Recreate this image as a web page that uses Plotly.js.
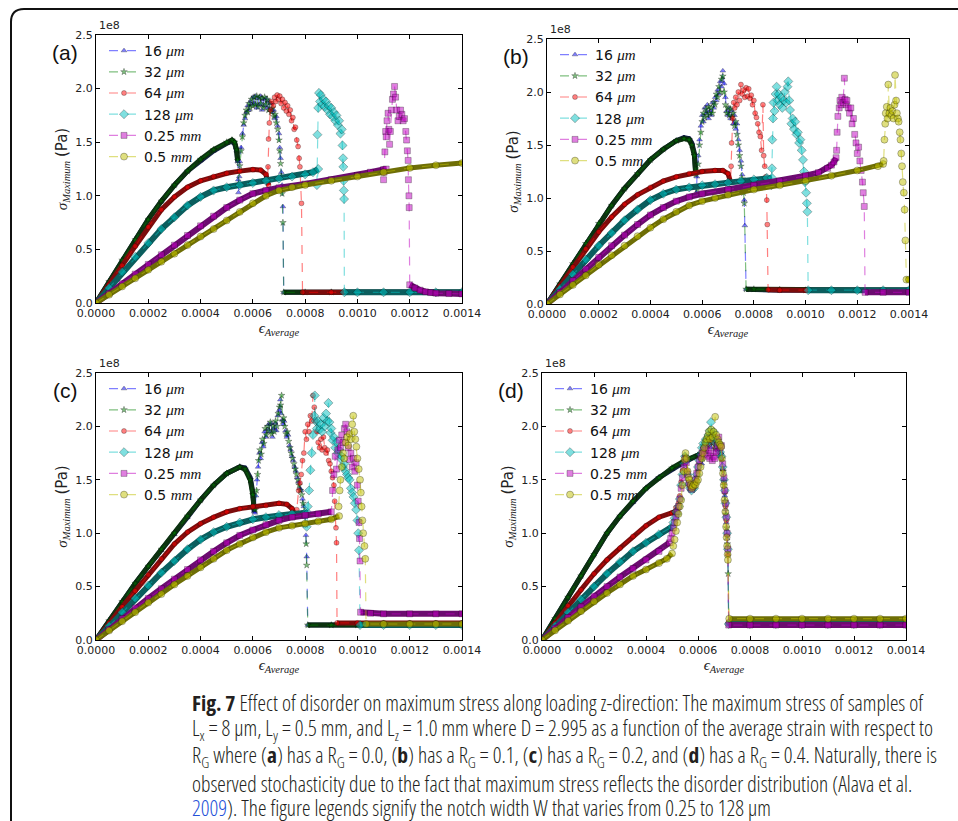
<!DOCTYPE html>
<html><head><meta charset="utf-8">
<script src="https://cdn.plot.ly/plotly-3.0.1.min.js"></script>
<style>html,body{margin:0;padding:0;background:#fff;}#chart{width:958px;height:821px;}</style>
</head><body><div id="chart"></div>
<script>
// ---------------- DATA (strain in units of 1e-4, stress in units of 1e8 Pa) ----------------
const STRAIN_UNIT = 1e-4;
const NOTCH_VALUES = ['16', '32', '64', '128', '0.25', '0.5'];
const NOTCH_UNITS = ['μm', 'μm', 'μm', 'μm', 'mm', 'mm'];
const X_TICKS = [0, 0.0002, 0.0004, 0.0006, 0.0008, 0.0010, 0.0012, 0.0014];
const X_TICK_LABELS = ['0.0000', '0.0002', '0.0004', '0.0006', '0.0008', '0.0010', '0.0012', '0.0014'];
const Y_TICKS = [0, 0.5, 1.0, 1.5, 2.0, 2.5];
const Y_TICK_LABELS = ['0.0', '0.5', '1.0', '1.5', '2.0', '2.5'];
const PANEL_LABELS = ['(a)', '(b)', '(c)', '(d)'];

// ---- Panel (a) R_G = 0.0 ----
const A16_RISE = [[0,0],[0.5,0.20],[1,0.40],[1.5,0.59],[2,0.78],[2.5,0.95],[3,1.10],[3.5,1.23],[4,1.33],[4.5,1.42],[5,1.49],[5.2,1.51],[5.3,1.49],[5.38,1.42],[5.42,1.32]];
const A16_PEAK = [[5.44,1.15],[5.45,1.03],[5.48,1.18],[5.5,1.32],[5.55,1.45],[5.6,1.58],[5.65,1.66],[5.7,1.72],[5.75,1.78],[5.8,1.84],[5.85,1.80],[5.9,1.88],[5.95,1.85],[6.0,1.92],[6.05,1.86],[6.1,1.93],[6.15,1.82],[6.2,1.91],[6.25,1.85],[6.3,1.93],[6.35,1.80],[6.4,1.90],[6.45,1.84],[6.5,1.91],[6.55,1.82],[6.6,1.88],[6.65,1.80],[6.7,1.86],[6.75,1.78],[6.8,1.80],[6.85,1.72],[6.9,1.74],[6.95,1.65],[7.0,1.58],[7.03,1.45],[7.06,1.35],[7.09,1.22],[7.12,1.10],[7.15,0.90]];
const A16_POST = [[7.18,0.10],[8,0.10],[9,0.10],[10,0.10],[11,0.10],[12,0.10],[13,0.10],[14,0.10]];
const A32_RISE = [[0,0],[0.5,0.20],[1,0.40],[1.5,0.59],[2,0.78],[2.5,0.95],[3,1.10],[3.5,1.23],[4,1.34],[4.5,1.43],[5,1.50],[5.2,1.52],[5.3,1.50],[5.38,1.43],[5.42,1.33]];
const A32_PEAK = [[5.46,1.10],[5.5,1.28],[5.55,1.42],[5.6,1.55],[5.65,1.68],[5.7,1.75],[5.75,1.80],[5.8,1.78],[5.85,1.86],[5.9,1.82],[5.95,1.90],[6.0,1.84],[6.05,1.92],[6.1,1.85],[6.15,1.93],[6.2,1.83],[6.25,1.92],[6.3,1.86],[6.35,1.91],[6.4,1.82],[6.45,1.92],[6.5,1.85],[6.55,1.90],[6.6,1.80],[6.65,1.87],[6.7,1.78],[6.75,1.82],[6.8,1.74],[6.85,1.76],[6.9,1.68],[6.95,1.62],[7.0,1.52],[7.03,1.42],[7.06,1.30],[7.09,1.18],[7.12,1.02],[7.15,0.75]];
const A32_POST = [[7.18,0.10],[8,0.10],[9,0.10],[10,0.10],[11,0.10],[12,0.10],[13,0.10],[14,0.10]];
const A64_RISE = [[0,0],[0.5,0.17],[1,0.35],[1.5,0.53],[2,0.71],[2.5,0.87],[3,0.99],[3.5,1.08],[4,1.14],[4.5,1.18],[5,1.21],[5.5,1.23],[6,1.245],[6.3,1.24],[6.5,1.20],[6.6,1.10]];
const A64_PEAK = [[6.55,1.02],[6.58,1.27],[6.6,1.53],[6.63,1.68],[6.68,1.80],[6.72,1.88],[6.78,1.84],[6.83,1.92],[6.88,1.88],[6.93,1.94],[6.98,1.90],[7.03,1.93],[7.08,1.86],[7.13,1.90],[7.18,1.82],[7.23,1.87],[7.28,1.79],[7.33,1.84],[7.38,1.76],[7.43,1.80],[7.48,1.70],[7.53,1.73],[7.58,1.62],[7.63,1.64],[7.68,1.52],[7.73,1.46],[7.77,1.35],[7.8,1.27],[7.83,1.10],[7.86,0.93]];
const A64_POST = [[7.9,0.10],[9,0.10],[10,0.10],[11,0.10],[12,0.10],[13,0.10],[14,0.10]];
const A128_RISE = [[0,0],[0.5,0.14],[1,0.29],[1.5,0.43],[2,0.56],[2.5,0.69],[3,0.80],[3.5,0.91],[4,0.99],[4.5,1.05],[5,1.08],[5.5,1.10],[6,1.12],[6.5,1.14],[7,1.16],[7.5,1.18],[8,1.20],[8.3,1.22],[8.5,1.25]];
const A128_PEAK = [[8.45,1.10],[8.47,1.57],[8.5,1.82],[8.53,1.96],[8.57,1.88],[8.6,1.94],[8.65,1.85],[8.7,1.90],[8.75,1.83],[8.8,1.88],[8.85,1.80],[8.9,1.84],[8.95,1.76],[9.0,1.82],[9.05,1.74],[9.1,1.78],[9.15,1.70],[9.2,1.75],[9.25,1.66],[9.3,1.70],[9.35,1.58],[9.4,1.62],[9.43,1.47],[9.45,1.35],[9.46,1.27],[9.47,1.14],[9.48,1.05],[9.49,0.97]];
const A128_POST = [[9.5,0.10],[10,0.10],[11,0.10],[12,0.10],[13,0.10],[14,0.10]];
const A025_RISE = [[0,0],[0.5,0.09],[1,0.18],[1.5,0.27],[2,0.36],[2.5,0.45],[3,0.54],[3.5,0.63],[4,0.72],[4.5,0.81],[5,0.89],[5.5,0.96],[6,1.02],[6.5,1.05],[7,1.075],[8,1.11],[9,1.15],[10,1.19],[10.5,1.22],[11,1.245],[11.1,1.25]];
const A025_PEAK = [[11.0,1.15],[11.02,1.22],[11.05,1.41],[11.08,1.60],[11.1,1.55],[11.13,1.70],[11.17,1.77],[11.2,1.62],[11.23,1.48],[11.26,1.60],[11.3,1.80],[11.34,1.90],[11.38,1.95],[11.42,2.02],[11.46,1.92],[11.5,1.80],[11.55,1.70],[11.6,1.74],[11.65,1.80],[11.7,1.76],[11.75,1.70],[11.8,1.72],[11.85,1.60],[11.88,1.52],[11.91,1.42],[11.94,1.33],[11.95,1.15],[11.97,1.0],[11.98,0.89]];
const A025_POST = [[12.0,0.17],[12.2,0.14],[12.4,0.12],[12.6,0.105],[12.8,0.097],[13.0,0.092],[13.5,0.088],[14,0.085]];
const A05_RISE = [[0,0],[0.5,0.077],[1,0.154],[1.5,0.23],[2,0.31],[2.5,0.385],[3,0.46],[3.5,0.54],[4,0.62],[4.5,0.69],[5,0.77],[5.5,0.85],[6,0.93],[6.5,1.0],[7,1.05],[7.5,1.08],[8,1.10],[9,1.14],[10,1.18],[11,1.22],[12,1.26],[13,1.285],[14,1.305]];
const A05_PEAK = [];
const A05_POST = [];

// ---- Panel (b) R_G = 0.1 ----
const B16_RISE = [[0,0],[0.5,0.19],[1,0.38],[1.5,0.57],[2,0.76],[2.5,0.93],[3,1.09],[3.5,1.23],[4,1.36],[4.5,1.46],[5,1.54],[5.3,1.57],[5.5,1.56],[5.6,1.52],[5.7,1.42],[5.75,1.25]];
const B16_PEAK = [[5.78,1.05],[5.8,1.20],[5.85,1.40],[5.9,1.55],[5.95,1.68],[6.0,1.78],[6.05,1.72],[6.1,1.85],[6.15,1.80],[6.2,1.88],[6.25,1.75],[6.3,1.82],[6.35,1.78],[6.4,1.90],[6.45,1.85],[6.5,1.95],[6.55,1.92],[6.6,2.02],[6.65,1.98],[6.7,2.10],[6.75,2.05],[6.8,2.20],[6.85,2.08],[6.9,1.95],[6.95,1.82],[7.0,1.78],[7.05,1.85],[7.1,1.75],[7.15,1.82],[7.2,1.70],[7.25,1.78],[7.3,1.65],[7.35,1.70],[7.4,1.55],[7.45,1.45],[7.5,1.35],[7.55,1.22],[7.6,1.10],[7.63,0.98],[7.65,0.74]];
const B16_POST = [[7.7,0.14],[8,0.135],[9,0.13],[10,0.13],[11,0.13],[12,0.13],[13,0.13],[14,0.13]];
const B32_RISE = [[0,0],[0.5,0.19],[1,0.38],[1.5,0.57],[2,0.76],[2.5,0.93],[3,1.09],[3.5,1.23],[4,1.36],[4.5,1.46],[5,1.54],[5.3,1.56],[5.5,1.55],[5.6,1.50],[5.7,1.40],[5.75,1.22]];
const B32_PEAK = [[5.8,1.08],[5.85,1.32],[5.9,1.50],[5.95,1.62],[6.0,1.72],[6.05,1.80],[6.1,1.76],[6.15,1.84],[6.2,1.78],[6.25,1.86],[6.3,1.80],[6.35,1.85],[6.4,1.80],[6.45,1.90],[6.5,1.88],[6.55,1.98],[6.6,1.95],[6.65,2.05],[6.7,2.0],[6.75,2.12],[6.8,2.15],[6.85,2.0],[6.9,1.88],[6.95,1.80],[7.0,1.85],[7.05,1.78],[7.1,1.84],[7.15,1.76],[7.2,1.80],[7.25,1.68],[7.3,1.72],[7.35,1.60],[7.4,1.50],[7.45,1.40],[7.5,1.30],[7.55,1.18],[7.6,1.05],[7.63,0.95]];
const B32_POST = [[7.7,0.14],[8,0.14],[9,0.135],[10,0.13],[11,0.13],[12,0.13],[13,0.13],[14,0.13]];
const B64_RISE = [[0,0],[0.5,0.17],[1,0.35],[1.5,0.52],[2,0.68],[2.5,0.82],[3,0.94],[3.5,1.03],[4,1.10],[4.5,1.16],[5,1.20],[5.5,1.23],[6,1.25],[6.5,1.26],[6.8,1.26],[7.0,1.23],[7.1,1.15]];
const B64_PEAK = [[7.12,1.30],[7.14,1.52],[7.18,1.75],[7.22,1.90],[7.26,1.85],[7.3,1.95],[7.35,1.88],[7.4,2.00],[7.45,1.92],[7.5,2.07],[7.55,1.98],[7.6,2.02],[7.65,1.95],[7.7,2.04],[7.75,1.96],[7.8,2.03],[7.85,1.94],[7.9,1.97],[7.95,1.88],[8.0,1.92],[8.05,1.80],[8.1,1.76],[8.15,1.70],[8.2,1.62],[8.25,1.58],[8.3,1.45],[8.35,1.88],[8.38,1.40],[8.42,1.30],[8.46,1.20],[8.5,0.98],[8.52,0.75]];
const B64_POST = [[8.55,0.135],[9,0.13],[10,0.13],[11,0.13],[12,0.13],[13,0.13],[14,0.13]];
const B128_RISE = [[0,0],[0.5,0.14],[1,0.28],[1.5,0.42],[2,0.55],[2.5,0.67],[3,0.79],[3.5,0.89],[4,0.98],[4.5,1.04],[5,1.08],[5.5,1.10],[6,1.12],[6.5,1.13],[7,1.145],[7.5,1.16],[8,1.175],[8.5,1.19],[8.7,1.19]];
const B128_PEAK = [[8.68,1.12],[8.7,1.28],[8.71,1.55],[8.74,1.75],[8.76,1.90],[8.8,1.82],[8.84,1.98],[8.88,2.05],[8.92,1.92],[8.96,1.98],[9.0,1.88],[9.05,1.95],[9.1,1.85],[9.15,1.92],[9.2,2.00],[9.25,1.90],[9.3,2.05],[9.33,2.10],[9.37,1.92],[9.4,1.83],[9.45,1.70],[9.5,1.75],[9.55,1.65],[9.6,1.72],[9.65,1.60],[9.7,1.62],[9.75,1.52],[9.8,1.55],[9.85,1.45],[9.9,1.36],[9.94,1.25],[9.98,1.15],[10.02,1.05],[10.05,0.95],[10.07,0.87]];
const B128_POST = [[10.1,0.13],[11,0.13],[12,0.13],[13,0.13],[14,0.13]];
const B025_RISE = [[0,0],[0.5,0.11],[1,0.22],[1.5,0.33],[2,0.44],[2.5,0.55],[3,0.65],[3.5,0.75],[4,0.84],[4.5,0.91],[5,0.97],[5.5,1.01],[6,1.04],[7,1.08],[8,1.12],[9,1.16],[10,1.21],[10.5,1.24],[10.85,1.28],[11,1.31],[11.1,1.34],[11.18,1.38]];
const B025_PEAK = [[11.2,1.45],[11.22,1.62],[11.25,1.77],[11.3,1.85],[11.33,1.92],[11.37,1.88],[11.4,1.95],[11.45,1.90],[11.5,2.13],[11.53,1.93],[11.57,1.88],[11.6,1.92],[11.65,1.85],[11.7,1.80],[11.75,1.85],[11.8,1.70],[11.85,1.75],[11.9,1.60],[11.95,1.52],[12.0,1.42],[12.05,1.48],[12.1,1.35],[12.15,1.26],[12.2,1.15],[12.23,1.05],[12.27,0.92]];
const B025_POST = [[12.3,0.11],[13,0.11],[14,0.11]];
const B05_RISE = [[0,0],[0.5,0.09],[1,0.18],[1.5,0.27],[2,0.37],[2.5,0.46],[3,0.55],[3.5,0.64],[4,0.72],[4.5,0.80],[5,0.87],[5.5,0.93],[6,0.97],[6.5,1.0],[7,1.03],[8,1.08],[9,1.12],[10,1.16],[11,1.21],[12,1.26],[12.8,1.30],[13.0,1.32]];
const B05_PEAK = [[13.02,1.35],[13.05,1.55],[13.08,1.70],[13.1,1.80],[13.14,1.86],[13.17,1.75],[13.2,2.07],[13.24,1.80],[13.28,1.85],[13.32,1.78],[13.36,1.82],[13.4,1.75],[13.44,1.88],[13.46,2.16],[13.5,1.92],[13.53,1.80],[13.57,1.75],[13.6,1.72],[13.64,1.62],[13.67,1.55],[13.7,1.42],[13.73,1.30],[13.76,1.15],[13.8,1.05],[13.83,0.89],[13.86,0.60]];
const B05_POST = [[13.9,0.23],[14,0.23]];

// ---- Panel (c) R_G = 0.2 ----
const C16_RISE = [[0,0],[0.5,0.18],[1,0.36],[1.5,0.53],[2,0.69],[2.5,0.84],[3,0.99],[3.5,1.15],[4,1.31],[4.5,1.45],[5,1.56],[5.5,1.62],[5.7,1.61],[5.9,1.52],[6.0,1.38],[6.05,1.20]];
const C16_PEAK = [[6.08,1.19],[6.12,1.35],[6.16,1.50],[6.2,1.62],[6.25,1.75],[6.3,1.70],[6.35,1.85],[6.4,1.81],[6.45,1.95],[6.5,1.90],[6.55,1.97],[6.6,2.02],[6.65,1.95],[6.7,2.03],[6.75,1.90],[6.8,1.98],[6.85,2.03],[6.9,1.96],[6.95,2.10],[7.0,2.15],[7.05,2.25],[7.08,2.12],[7.12,2.06],[7.16,2.02],[7.2,2.05],[7.25,1.96],[7.3,1.90],[7.35,1.92],[7.4,1.82],[7.45,1.78],[7.5,1.72],[7.55,1.68],[7.6,1.62],[7.65,1.58],[7.7,1.52],[7.75,1.48],[7.8,1.42],[7.85,1.40],[7.9,1.32],[7.95,1.25],[8.0,1.15],[8.03,0.98],[8.06,0.78]];
const C16_POST = [[8.1,0.14],[9,0.14],[10,0.14],[11,0.14],[12,0.14],[13,0.14],[14,0.14]];
const C32_RISE = [[0,0],[0.5,0.18],[1,0.36],[1.5,0.53],[2,0.69],[2.5,0.85],[3,1.0],[3.5,1.16],[4,1.31],[4.5,1.45],[5,1.56],[5.5,1.62],[5.7,1.60],[5.9,1.50],[6.0,1.36],[6.05,1.22]];
const C32_PEAK = [[6.1,1.22],[6.14,1.40],[6.18,1.55],[6.22,1.68],[6.27,1.78],[6.32,1.74],[6.37,1.88],[6.42,1.84],[6.47,1.98],[6.52,1.92],[6.57,2.0],[6.62,1.96],[6.67,2.04],[6.72,1.93],[6.77,2.0],[6.82,1.95],[6.87,2.05],[6.92,2.0],[6.97,2.12],[7.02,2.18],[7.06,2.2],[7.1,2.29],[7.14,2.05],[7.18,2.08],[7.22,2.0],[7.27,1.93],[7.32,1.95],[7.37,1.86],[7.42,1.80],[7.47,1.75],[7.52,1.70],[7.57,1.65],[7.62,1.60],[7.67,1.55],[7.72,1.50],[7.77,1.45],[7.82,1.40],[7.87,1.36],[7.92,1.28],[7.97,1.20],[8.01,1.08],[8.04,0.90],[8.06,0.70]];
const C32_POST = [[8.1,0.14],[9,0.14],[10,0.14],[11,0.14],[12,0.14],[13,0.14],[14,0.14]];
const C64_RISE = [[0,0],[0.5,0.16],[1,0.31],[1.5,0.46],[2,0.61],[2.5,0.76],[3,0.90],[3.5,1.01],[4,1.09],[4.5,1.15],[5,1.20],[5.5,1.23],[6,1.25],[6.5,1.26],[7,1.28],[7.3,1.27],[7.5,1.23],[7.6,1.18]];
const C64_PEAK = [[7.68,1.22],[7.75,1.40],[7.8,1.47],[7.85,1.55],[7.9,1.68],[7.95,1.75],[8.0,1.95],[8.05,1.88],[8.1,2.02],[8.15,1.95],[8.2,2.10],[8.25,2.05],[8.3,2.29],[8.35,2.18],[8.4,2.05],[8.45,1.95],[8.5,1.85],[8.55,1.80],[8.6,1.88],[8.65,1.78],[8.7,1.90],[8.75,1.80],[8.8,1.75],[8.85,1.78],[8.9,1.68],[8.95,1.65],[9.0,1.58],[9.05,1.52],[9.1,1.45],[9.13,1.30],[9.16,1.15],[9.18,1.05],[9.2,0.91]];
const C64_POST = [[9.22,0.16],[10,0.16],[11,0.16],[12,0.16],[13,0.16],[14,0.16]];
const C128_RISE = [[0,0],[0.5,0.13],[1,0.26],[1.5,0.39],[2,0.51],[2.5,0.63],[3,0.74],[3.5,0.85],[4,0.94],[4.5,1.01],[5,1.06],[5.5,1.10],[6,1.13],[6.5,1.15],[7,1.17],[7.5,1.18],[8,1.19],[8.1,1.19]];
const C128_PEAK = [[8.06,1.06],[8.1,1.25],[8.15,1.40],[8.2,1.59],[8.25,1.75],[8.3,1.92],[8.35,2.10],[8.37,2.29],[8.4,2.05],[8.45,1.98],[8.5,2.05],[8.55,1.97],[8.6,2.02],[8.65,1.95],[8.7,2.08],[8.75,2.00],[8.8,2.12],[8.85,2.05],[8.89,2.22],[8.93,2.04],[8.97,1.94],[9.0,1.98],[9.05,1.87],[9.1,1.90],[9.15,1.80],[9.2,1.85],[9.25,1.75],[9.3,1.78],[9.35,1.70],[9.4,1.72],[9.45,1.62],[9.5,1.65],[9.55,1.58],[9.6,1.55],[9.65,1.52],[9.7,1.50],[9.75,1.42],[9.8,1.38],[9.85,1.34],[9.9,1.28],[9.95,1.22],[10.0,1.12],[10.03,1.0],[10.06,0.84]];
const C128_POST = [[10.1,0.14],[11,0.14],[12,0.14],[13,0.14],[14,0.14]];
const C025_RISE = [[0,0],[0.5,0.10],[1,0.20],[1.5,0.30],[2,0.39],[2.5,0.48],[3,0.57],[3.5,0.66],[4,0.75],[4.5,0.83],[5,0.91],[5.5,0.98],[6,1.03],[6.5,1.08],[7,1.12],[7.5,1.15],[8,1.17],[8.5,1.18],[9,1.20]];
const C025_PEAK = [[9.05,1.40],[9.1,1.55],[9.15,1.72],[9.2,1.60],[9.25,1.78],[9.3,1.87],[9.35,1.80],[9.4,1.92],[9.45,1.85],[9.5,1.98],[9.55,2.02],[9.6,1.95],[9.65,1.80],[9.7,1.69],[9.75,1.75],[9.8,1.62],[9.85,1.70],[9.9,1.58],[9.95,1.66],[10.0,1.45],[10.03,1.30],[10.06,1.10],[10.08,0.95],[10.1,0.74]];
const C025_POST = [[10.12,0.26],[10.5,0.25],[11,0.245],[12,0.245],[13,0.245],[14,0.245]];
const C05_RISE = [[0,0],[0.5,0.088],[1,0.175],[1.5,0.26],[2,0.35],[2.5,0.43],[3,0.52],[3.5,0.60],[4,0.68],[4.5,0.76],[5,0.84],[5.5,0.90],[6,0.96],[6.5,1.01],[7,1.05],[7.5,1.07],[8,1.09],[8.5,1.11],[9,1.13],[9.3,1.16]];
const C05_PEAK = [[9.28,1.25],[9.32,1.40],[9.35,1.50],[9.4,1.62],[9.45,1.75],[9.5,1.70],[9.55,1.85],[9.6,1.90],[9.65,1.82],[9.7,1.93],[9.75,1.88],[9.8,2.02],[9.84,2.10],[9.88,1.95],[9.92,1.88],[9.96,1.81],[10.0,1.70],[10.05,1.60],[10.1,1.50],[10.13,1.38],[10.16,1.25],[10.19,1.12],[10.22,1.0],[10.27,0.88],[10.3,0.76]];
const C05_POST = [[10.33,0.15],[11,0.15],[12,0.15],[13,0.15],[14,0.15]];

// ---- Panel (d) R_G = 0.4 ----
const D16_RISE = [[0,0],[0.5,0.20],[1,0.40],[1.5,0.60],[2,0.80],[2.5,1.0],[3,1.16],[3.5,1.29],[4,1.42],[4.5,1.52],[5,1.60],[5.5,1.67],[6,1.73],[6.1,1.72]];
const D16_PEAK = [[6.15,1.65],[6.2,1.78],[6.25,1.86],[6.3,1.80],[6.35,1.90],[6.4,1.85],[6.45,1.92],[6.5,1.80],[6.55,1.95],[6.6,1.85],[6.65,1.90],[6.7,1.78],[6.75,1.85],[6.8,1.80],[6.85,1.72],[6.9,1.75],[6.95,1.60],[7.0,1.50],[7.03,1.35],[7.06,1.22],[7.09,1.10],[7.12,0.95],[7.15,0.80]];
const D16_POST = [[7.18,0.15],[8,0.15],[9,0.15],[10,0.15],[11,0.15],[12,0.15],[13,0.15],[14,0.15]];
const D32_RISE = [[0,0],[0.5,0.20],[1,0.40],[1.5,0.60],[2,0.80],[2.5,1.0],[3,1.16],[3.5,1.30],[4,1.42],[4.5,1.52],[5,1.61],[5.5,1.68],[6,1.73],[6.1,1.71]];
const D32_PEAK = [[6.17,1.70],[6.22,1.82],[6.27,1.84],[6.32,1.88],[6.37,1.82],[6.42,1.90],[6.47,1.86],[6.52,1.93],[6.57,1.84],[6.62,1.92],[6.67,1.82],[6.72,1.88],[6.77,1.79],[6.82,1.82],[6.87,1.74],[6.92,1.70],[6.97,1.58],[7.0,1.45],[7.04,1.30],[7.07,1.18],[7.1,1.05],[7.13,0.90],[7.16,0.62]];
const D32_POST = [[7.18,0.15],[8,0.15],[9,0.15],[10,0.15],[11,0.15],[12,0.15],[13,0.15],[14,0.15]];
const D64_RISE = [[0,0],[0.5,0.16],[1,0.32],[1.5,0.47],[2,0.62],[2.5,0.75],[3,0.86],[3.5,0.97],[4,1.07],[4.5,1.15],[5,1.19],[5.1,1.20]];
const D64_PEAK = [[5.15,1.24],[5.2,1.22],[5.25,1.28],[5.3,1.35],[5.35,1.48],[5.4,1.58],[5.45,1.66],[5.5,1.72],[5.55,1.70],[5.6,1.58],[5.65,1.48],[5.7,1.44],[5.75,1.42],[5.8,1.45],[5.85,1.43],[5.9,1.48],[5.95,1.52],[6.0,1.58],[6.05,1.65],[6.1,1.70],[6.15,1.75],[6.2,1.80],[6.25,1.78],[6.3,1.86],[6.35,1.82],[6.4,1.90],[6.45,1.86],[6.5,1.92],[6.55,1.85],[6.6,1.90],[6.65,1.80],[6.7,1.86],[6.75,1.78],[6.8,1.84],[6.85,1.75],[6.9,1.70],[6.95,1.60],[7.0,1.48],[7.03,1.38],[7.06,1.25],[7.09,1.12],[7.12,0.98],[7.15,0.80]];
const D64_POST = [[7.18,0.17],[8,0.17],[9,0.17],[10,0.17],[11,0.17],[12,0.17],[13,0.17],[14,0.17]];
const D128_RISE = [[0,0],[0.5,0.13],[1,0.26],[1.5,0.38],[2,0.50],[2.5,0.62],[3,0.73],[3.5,0.83],[4,0.91],[4.5,0.99],[5,1.06]];
const D128_PEAK = [[5.05,1.10],[5.1,1.14],[5.15,1.20],[5.2,1.18],[5.25,1.25],[5.3,1.32],[5.35,1.45],[5.4,1.55],[5.45,1.65],[5.5,1.72],[5.55,1.68],[5.6,1.55],[5.65,1.46],[5.7,1.42],[5.75,1.40],[5.8,1.44],[5.85,1.42],[5.9,1.50],[5.95,1.55],[6.0,1.62],[6.05,1.68],[6.1,1.74],[6.15,1.80],[6.2,1.84],[6.25,1.80],[6.3,1.88],[6.35,1.84],[6.4,1.92],[6.45,1.96],[6.5,2.04],[6.55,1.90],[6.6,1.95],[6.65,1.85],[6.7,1.88],[6.75,1.80],[6.8,1.84],[6.85,1.76],[6.9,1.72],[6.95,1.62],[7.0,1.50],[7.03,1.40],[7.06,1.28],[7.09,1.15],[7.12,1.0],[7.15,0.85]];
const D128_POST = [[7.18,0.15],[8,0.15],[9,0.15],[10,0.15],[11,0.15],[12,0.15],[13,0.15],[14,0.15]];
const D025_RISE = [[0,0],[0.5,0.11],[1,0.21],[1.5,0.31],[2,0.41],[2.5,0.50],[3,0.59],[3.5,0.67],[4,0.75],[4.5,0.83],[4.9,0.91]];
const D025_PEAK = [[4.95,0.95],[5.0,1.0],[5.05,1.05],[5.1,1.10],[5.15,1.15],[5.2,1.20],[5.25,1.25],[5.3,1.32],[5.35,1.42],[5.4,1.52],[5.45,1.62],[5.5,1.70],[5.55,1.66],[5.6,1.55],[5.65,1.47],[5.7,1.43],[5.75,1.41],[5.8,1.43],[5.85,1.45],[5.9,1.50],[5.95,1.56],[6.0,1.62],[6.05,1.68],[6.1,1.72],[6.15,1.75],[6.2,1.78],[6.25,1.74],[6.3,1.80],[6.35,1.72],[6.4,1.78],[6.45,1.70],[6.5,1.75],[6.55,1.68],[6.6,1.72],[6.65,1.70],[6.7,1.76],[6.75,1.82],[6.8,1.90],[6.85,1.80],[6.9,1.82],[6.95,1.65],[7.0,1.52],[7.03,1.40],[7.06,1.28],[7.09,1.15],[7.12,1.0],[7.15,0.85]];
const D025_POST = [[7.18,0.14],[8,0.14],[9,0.14],[10,0.14],[11,0.14],[12,0.14],[13,0.14],[14,0.14]];
const D05_RISE = [[0,0],[0.5,0.09],[1,0.18],[1.5,0.27],[2,0.36],[2.5,0.44],[3,0.52],[3.5,0.60],[4,0.66],[4.5,0.72],[4.8,0.76],[5,0.81]];
const D05_PEAK = [[5.05,0.88],[5.1,0.94],[5.15,1.02],[5.2,1.10],[5.25,1.18],[5.3,1.25],[5.35,1.31],[5.4,1.45],[5.45,1.58],[5.48,1.69],[5.52,1.75],[5.56,1.70],[5.6,1.58],[5.64,1.52],[5.67,1.50],[5.72,1.45],[5.76,1.42],[5.8,1.44],[5.85,1.46],[5.9,1.45],[5.95,1.48],[6.0,1.50],[6.05,1.56],[6.1,1.62],[6.15,1.70],[6.19,1.75],[6.24,1.80],[6.28,1.85],[6.33,1.88],[6.38,1.91],[6.42,1.95],[6.46,1.88],[6.51,1.97],[6.56,1.90],[6.6,1.95],[6.66,2.09],[6.7,1.92],[6.76,1.88],[6.8,1.85],[6.85,1.83],[6.89,1.81],[6.92,1.70],[6.96,1.56],[6.99,1.45],[7.02,1.31],[7.05,1.20],[7.08,1.06],[7.1,0.96],[7.12,0.88],[7.14,0.80],[7.15,0.75]];
const D05_POST = [[7.2,0.20],[8,0.20],[9,0.20],[10,0.20],[11,0.20],[12,0.20],[13,0.20],[14,0.20]];

// ---------------- STYLE ----------------
const W = 958, H = 821;
const PANEL_BOXES = [[96,462,35,303],[547,909,39,304],[96,462,373,640],[542,906,373,640]]; // left,right,top,bottom px
const SYMBOLS = ['triangle-up','star','circle','diamond','square','circle'];
const MSIZE = [5, 5, 5, 7, 6, 7];
const MCOL = ['rgba(0,0,255,0.5)','rgba(0,128,0,0.5)','rgba(255,0,0,0.5)','rgba(0,191,191,0.5)','rgba(191,0,191,0.5)','rgba(191,191,0,0.5)'];
const BAND = ['#16204a','#0c3210','#7c0c0c','#0b5e5e','#6c0c70','#6e6e06'];
const BANDW = [5, 5, 5, 6, 6, 5];

const panels = [
  {rise:[A16_RISE,A32_RISE,A64_RISE,A128_RISE,A025_RISE,A05_RISE], peak:[A16_PEAK,A32_PEAK,A64_PEAK,A128_PEAK,A025_PEAK,A05_PEAK], post:[A16_POST,A32_POST,A64_POST,A128_POST,A025_POST,A05_POST]},
  {rise:[B16_RISE,B32_RISE,B64_RISE,B128_RISE,B025_RISE,B05_RISE], peak:[B16_PEAK,B32_PEAK,B64_PEAK,B128_PEAK,B025_PEAK,B05_PEAK], post:[B16_POST,B32_POST,B64_POST,B128_POST,B025_POST,B05_POST]},
  {rise:[C16_RISE,C32_RISE,C64_RISE,C128_RISE,C025_RISE,C05_RISE], peak:[C16_PEAK,C32_PEAK,C64_PEAK,C128_PEAK,C025_PEAK,C05_PEAK], post:[C16_POST,C32_POST,C64_POST,C128_POST,C025_POST,C05_POST]},
  {rise:[D16_RISE,D32_RISE,D64_RISE,D128_RISE,D025_RISE,D05_RISE], peak:[D16_PEAK,D32_PEAK,D64_PEAK,D128_PEAK,D025_PEAK,D05_PEAK], post:[D16_POST,D32_POST,D64_POST,D128_POST,D025_POST,D05_POST]}
];

const fx = v => v / W, fy = v => 1 - v / H;
const SERIF = 'Liberation Serif, DejaVu Serif, serif';
const SANS = 'DejaVu Sans, sans-serif';
const xs = seg => seg.map(d => d[0] * STRAIN_UNIT);
const ys = seg => seg.map(d => d[1]);

const traces = [];
const layout = {
  width: W, height: H, margin: {l:0, r:0, t:0, b:0},
  paper_bgcolor: '#fff', plot_bgcolor: '#fff', showlegend: true,
  annotations: [], shapes: []
};

panels.forEach((p, k) => {
  const s = k === 0 ? '' : String(k + 1);
  const [x0, x1, yt, yb] = PANEL_BOXES[k];
  for (let j = 0; j < 6; j++) {
    [p.rise[j], p.post[j]].forEach(seg => {
      if (seg.length) traces.push({
        type:'scatter', mode:'lines', x: xs(seg), y: ys(seg), xaxis:'x'+s, yaxis:'y'+s,
        line:{color:BAND[j], width:BANDW[j]}, showlegend:false, hoverinfo:'skip'
      });
    });
    const all = p.rise[j].concat(p.peak[j], p.post[j]);
    traces.push({
      type:'scatter', mode:'lines+markers', x: xs(all), y: ys(all), xaxis:'x'+s, yaxis:'y'+s,
      name: NOTCH_VALUES[j] + ' <span style="font-family:' + SERIF + ';font-size:15px"><i>' + NOTCH_UNITS[j] + '</i></span>',
      legend: 'legend' + s,
      line:{color:MCOL[j], width:1.2, dash:'dash'},
      marker:{symbol:SYMBOLS[j], size:MSIZE[j], color:MCOL[j], line:{color:'rgba(0,0,0,0.45)', width:0.6}}
    });
  }
  const common = {showline:true, linecolor:'#000', linewidth:1, mirror:'ticks', ticks:'inside', ticklen:4,
    tickwidth:1, tickcolor:'#000', showgrid:false, zeroline:false, fixedrange:true,
    tickfont:{family:SANS, size:11, color:'#222'}};
  layout['xaxis'+s] = Object.assign({}, common, {
    domain:[fx(x0), fx(x1)], range:[0, 0.0014], anchor:'y'+s, tickmode:'array',
    tickvals:X_TICKS, ticktext:X_TICK_LABELS,
    title:{text:'<i>ϵ</i><sub><i>Average</i></sub>', font:{family:SERIF, size:15, color:'#222'}, standoff:0}
  });
  layout['yaxis'+s] = Object.assign({}, common, {
    domain:[fy(yb), fy(yt)], range:[0, 2.5], anchor:'x'+s, tickmode:'array',
    tickvals:Y_TICKS, ticktext:Y_TICK_LABELS,
    title:{text:'<i>σ</i><sub><i>Maximum</i></sub> <span style="font-family:' + SANS + '">(Pa)</span>', font:{family:SERIF, size:15, color:'#222'}, standoff:4}
  });
  layout['legend'+s] = {x: fx(x0 + 8), y: fy(yt), xanchor:'left', yanchor:'top',
    bgcolor:'rgba(0,0,0,0)', borderwidth:0, font:{family:SANS, size:14, color:'#111'}, itemwidth:30};
  layout.annotations.push({xref:'paper', yref:'paper', x:fx(x0 + 1), y:fy(yt - 1), xanchor:'left', yanchor:'bottom',
    text:'1e8', showarrow:false, font:{family:SANS, size:11, color:'#222'}});
  layout.annotations.push({xref:'paper', yref:'paper', x:fx(x0 - 31), y:fy(yt + 17), xanchor:'center', yanchor:'middle',
    text:PANEL_LABELS[k], showarrow:false, font:{family:'Liberation Sans, Arial, sans-serif', size:21, color:'#111'}});
});

// caption
const CAPTION = [
  '<b>Fig. 7</b> Effect of disorder on maximum stress along loading z-direction: The maximum stress of samples of',
  'L<sub>x</sub> = 8 μm, L<sub>y</sub> = 0.5 mm, and L<sub>z</sub> = 1.0 mm where D = 2.995 as a function of the average strain with respect to',
  'R<sub>G</sub> where (<b>a</b>) has a R<sub>G</sub> = 0.0, (<b>b</b>) has a R<sub>G</sub> = 0.1, (<b>c</b>) has a R<sub>G</sub> = 0.2, and (<b>d</b>) has a R<sub>G</sub> = 0.4. Naturally, there is',
  'observed stochasticity due to the fact that maximum stress reflects the disorder distribution (Alava et al.',
  '<span style="color:#2350d8">2009</span>). The figure legends signify the notch width W that varies from 0.25 to 128 μm'
];
const CAP_Y = [702, 729, 756, 783, 807];
CAPTION.forEach((t, i) => layout.annotations.push({xref:'paper', yref:'paper', x:fx(190), y:fy(CAP_Y[i]),
  xanchor:'left', yanchor:'middle', align:'left', showarrow:false,
  text:'<span style="font-stretch:condensed">' + t + '</span>',
  font:{family:'Open Sans, sans-serif', size:21.5, color:'#231f20', weight:300}}));

// frame with rounded top-left corner
layout.shapes.push({type:'path', xref:'paper', yref:'paper',
  path:`M ${fx(11)},${fy(840)} L ${fx(11)},${fy(22)} Q ${fx(11)},${fy(9)} ${fx(24)},${fy(9)} L ${fx(975)},${fy(9)}`,
  line:{color:'#111', width:2}});

Plotly.newPlot('chart', traces, layout, {staticPlot:true, displayModeBar:false});
</script></body></html>
